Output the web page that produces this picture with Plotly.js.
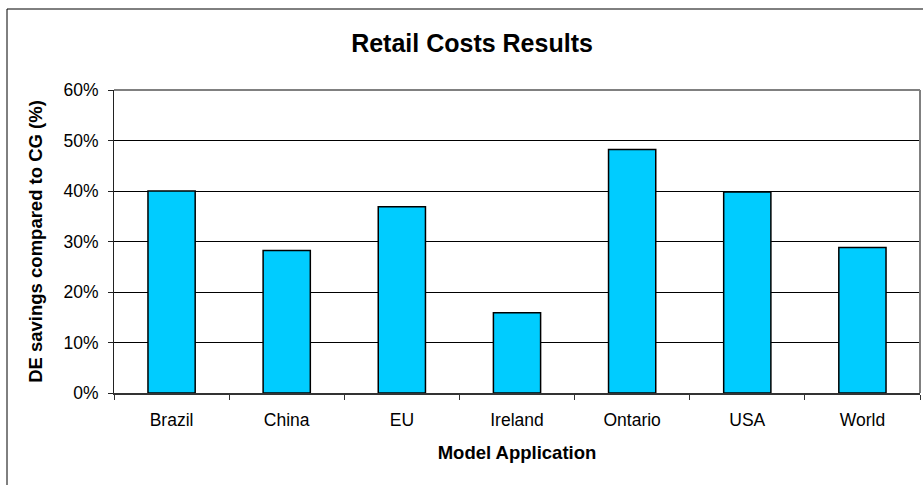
<!DOCTYPE html>
<html>
<head>
<meta charset="utf-8">
<script src="https://cdn.plot.ly/plotly-3.0.1.min.js"></script>
<style>html,body{margin:0;padding:0;background:#fff;}#chart{width:923px;height:485px;}</style>
</head>
<body>
<div id="chart"></div>
<script>
const categories = ["Brazil", "China", "EU", "Ireland", "Ontario", "USA", "World"];
const savings = [40.0, 28.2, 36.9, 15.9, 48.2, 39.8, 28.8];
const yTicks = [0, 10, 20, 30, 40, 50, 60];

const font = "Liberation Sans, Arial, sans-serif";

const trace = {
  type: "bar",
  x: categories,
  y: savings,
  marker: {color: "#00CCFF", line: {color: "#000000", width: 1.5}},
  hoverinfo: "x+y"
};

const layout = {
  width: 923, height: 485,
  margin: {l: 114, r: 3, t: 90, b: 92},
  paper_bgcolor: "#ffffff",
  plot_bgcolor: "#ffffff",
  showlegend: false,
  bargap: 0.59,
  font: {family: font, color: "#000000", size: 17.5},
  title: {
    text: "<b>Retail Costs Results</b>",
    font: {family: font, size: 25, color: "#000000"},
    xref: "container", x: 472/923, xanchor: "center",
    yref: "container", y: 1 - 43/485, yanchor: "middle"
  },
  xaxis: {
    type: "category",
    showline: true, linecolor: "#333333", linewidth: 1.5,
    ticks: "outside", tickson: "boundaries", ticklen: 5, tickcolor: "#333333",
    ticklabelstandoff: 10,
    showgrid: false,
    tickfont: {family: font, size: 17.5, color: "#000000"},
    title: {text: "<b>Model Application</b>", font: {family: font, size: 18.5, color: "#000000"}, standoff: 17}
  },
  yaxis: {
    range: [0, 60],
    tickvals: yTicks,
    ticktext: yTicks.map(v => v + "%"),
    showline: true, linecolor: "#222222", linewidth: 1,
    ticks: "outside", ticklen: 5, tickcolor: "#222222",
    ticklabelstandoff: 6,
    showgrid: true, gridcolor: "#000000", gridwidth: 1,
    zeroline: false,
    tickfont: {family: font, size: 17.5, color: "#000000"},
    title: {text: "<b>DE savings compared to CG (%)</b>", font: {family: font, size: 18.5, color: "#000000"}, standoff: 15}
  },
  shapes: [
    {type: "line", xref: "paper", yref: "paper", x0: 0, x1: 1, y0: 1, y1: 1, line: {color: "#808080", width: 2}, layer: "above"},
    {type: "line", xref: "paper", yref: "paper", x0: 1, x1: 1, y0: 0, y1: 1, line: {color: "#808080", width: 2}, layer: "above"},
    {type: "rect", xref: "paper", yref: "paper", x0: -107/806, x1: 1.02, y0: 384/303, y1: -0.4, line: {color: "#000000", width: 1}, fillcolor: "rgba(0,0,0,0)", layer: "below"}
  ]
};

Plotly.newPlot("chart", [trace], layout, {displayModeBar: false, staticPlot: true});
</script>
</body>
</html>
